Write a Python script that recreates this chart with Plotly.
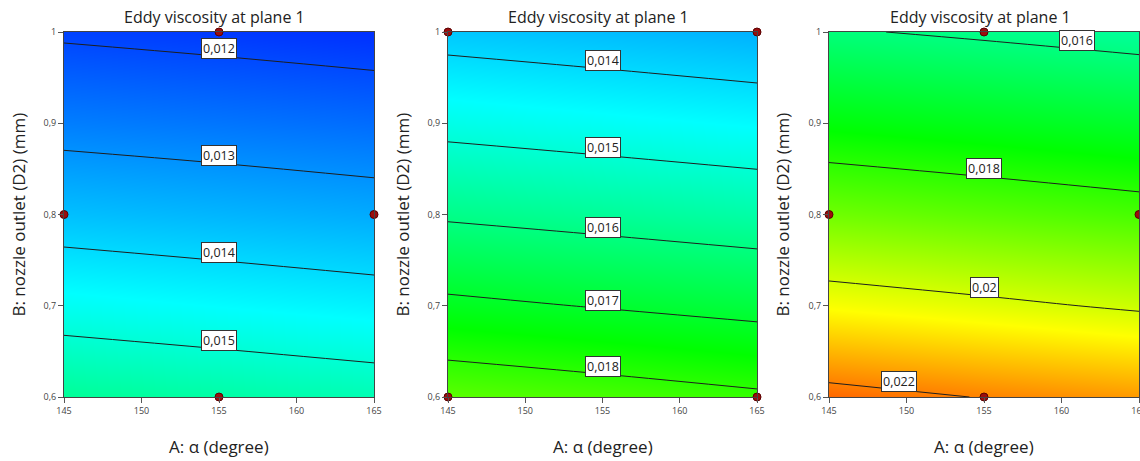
import numpy as np
import plotly.graph_objects as go

# Factor levels (grid on which the response was evaluated)
alpha = [145, 155, 165]            # A: alpha (degree)
d2 = [0.6, 0.7, 0.8, 0.9, 1.0]     # B: nozzle outlet D2 (mm)

# Eddy viscosity at plane 1; rows follow d2, columns follow alpha
nu_case1 = [
    [0.01573, 0.01557, 0.01540],
    [0.01465, 0.01449, 0.01433],
    [0.01364, 0.01350, 0.01335],
    [0.01273, 0.01261, 0.01248],
    [0.01190, 0.01178, 0.01165],
]
nu_case2 = [
    [0.01857, 0.01835, 0.01812],
    [0.01716, 0.01696, 0.01676],
    [0.01590, 0.01572, 0.01554],
    [0.01477, 0.01461, 0.01445],
    [0.01374, 0.01359, 0.01343],
]
nu_case3 = [
    [0.02229, 0.02197, 0.02170],
    [0.02044, 0.02017, 0.01989],
    [0.01882, 0.01858, 0.01834],
    [0.01738, 0.01718, 0.01697],
    [0.01607, 0.01588, 0.01568],
]

# Contour levels (start, end, step) for each panel
levels = [(0.012, 0.015, 0.001), (0.014, 0.018, 0.001), (0.016, 0.022, 0.002)]

# Where along alpha each contour label sits
label_alpha = [
    [155, 155, 155, 155],
    [155, 155, 155, 155, 155],
    [161, 155, 155, 149.5],
]

# Design points
pts1_a = [155, 145, 165, 155]
pts1_b = [1.0, 0.8, 0.8, 0.6]
pts2_a = [145, 165, 145, 165]
pts2_b = [1.0, 1.0, 0.6, 0.6]
pts3_a = [155, 145, 165, 155]
pts3_b = [1.0, 0.8, 0.8, 0.6]

x_ticks = [145, 150, 155, 160, 165]
y_ticks = [0.6, 0.7, 0.8, 0.9, 1.0]
y_ticktext = ["0,6", "0,7", "0,8", "0,9", "1"]

title_text = "Eddy viscosity at plane 1"
x_title = "A: α (degree)"
y_title = "B: nozzle outlet (D2) (mm)"

# Shared colour map: blue - cyan - green - yellow - red
color_vals = [0.0110, 0.0145, 0.0175, 0.0205, 0.0235]
color_list = ["rgb(0,0,255)", "rgb(0,255,255)", "rgb(0,255,0)",
              "rgb(255,255,0)", "rgb(255,0,0)"]
ZMIN, ZMAX = color_vals[0], color_vals[-1]
scale = [[(v - ZMIN) / (ZMAX - ZMIN), c] for v, c in zip(color_vals, color_list)]

W, H = 1140, 461
FONT = "Open Sans"
panels_px = [(64, 374), (448, 757), (829, 1139)]
top_px, bot_px = 32, 397
ytitle_px = [18, 402, 782]


def px_x(p):
    return p / W


def px_y(p):
    return 1 - p / H


def level_d2(z, a, level):
    """D2 value where the response equals `level` at a given alpha."""
    z = np.asarray(z)
    col = np.array([np.interp(a, alpha, row) for row in z])
    # response decreases with d2, so flip for interpolation
    return float(np.interp(level, col[::-1], np.array(d2)[::-1]))


fig = go.Figure()
data = [nu_case1, nu_case2, nu_case3]
pts = [(pts1_a, pts1_b), (pts2_a, pts2_b), (pts3_a, pts3_b)]
annotations = []

for i, z in enumerate(data):
    sfx = "" if i == 0 else str(i + 1)
    start, end, step = levels[i]
    fig.add_trace(go.Contour(
        x=alpha, y=d2, z=z,
        xaxis="x" + sfx, yaxis="y" + sfx,
        colorscale=scale, zmin=ZMIN, zmax=ZMAX, showscale=False,
        autocontour=False,
        contours=dict(start=start, end=end, size=step,
                      coloring="heatmap", showlines=True),
        line=dict(color="#1e1e1e", width=1),
        hoverinfo="skip",
    ))
    fig.add_trace(go.Scatter(
        x=pts[i][0], y=pts[i][1], mode="markers",
        xaxis="x" + sfx, yaxis="y" + sfx,
        marker=dict(color="#9b0d0d", size=8,
                    line=dict(color="#5a0000", width=1)),
        cliponaxis=False, showlegend=False, hoverinfo="skip",
    ))

    x0, x1 = panels_px[i]
    fig.update_layout(**{
        "xaxis" + sfx: dict(
            domain=[px_x(x0), px_x(x1)], range=[145, 165],
            anchor="y" + sfx, automargin=False, ticklabeloverflow="allow",
            tickvals=x_ticks, ticks="outside", ticklen=5,
            tickcolor="#555", showline=True, linecolor="#444",
            linewidth=1, mirror=True, showgrid=False, zeroline=False,
            tickfont=dict(family=FONT, size=9, color="#444"),
        ),
        "yaxis" + sfx: dict(
            domain=[px_y(bot_px), px_y(top_px)], range=[0.6, 1.0],
            anchor="x" + sfx, automargin=False, ticklabeloverflow="allow",
            tickvals=y_ticks, ticktext=y_ticktext, ticks="outside",
            ticklen=5, tickcolor="#555", showline=True, linecolor="#444",
            linewidth=1, mirror=True, showgrid=False, zeroline=False,
            tickfont=dict(family=FONT, size=9, color="#444"),
        ),
    })

    cx = px_x((x0 + x1) / 2)
    annotations.append(dict(
        text=title_text, xref="paper", yref="paper", x=cx, y=px_y(17),
        xanchor="center", yanchor="middle", xshift=-4, showarrow=False,
        font=dict(family=FONT, size=16, color="#222"),
    ))
    annotations.append(dict(
        text=x_title, xref="paper", yref="paper", x=cx, y=px_y(446),
        xanchor="center", yanchor="middle", showarrow=False,
        font=dict(family=FONT, size=17, color="#222"),
    ))
    annotations.append(dict(
        text=y_title, xref="paper", yref="paper", x=px_x(ytitle_px[i]),
        y=px_y((top_px + bot_px) / 2), xanchor="center", yanchor="middle",
        textangle=-90, showarrow=False,
        font=dict(family=FONT, size=17, color="#222"),
    ))

    lv = np.arange(start, end + step / 2, step)
    for level, a in zip(lv, label_alpha[i]):
        b = level_d2(z, a, level)
        annotations.append(dict(
            text=f"{level:.3f}".rstrip("0").replace(".", ","),
            xref="x" + sfx, yref="y" + sfx, x=a, y=b, yshift=8,
            xanchor="center", yanchor="middle",
            showarrow=False, bgcolor="white", bordercolor="#333",
            borderwidth=1, borderpad=1,
            font=dict(family=FONT, size=12.5, color="#222"),
        ))

fig.update_layout(
    width=W, height=H, margin=dict(l=0, r=0, t=0, b=0),
    paper_bgcolor="white", plot_bgcolor="white",
    showlegend=False, annotations=annotations,
)

fig.write_html("out.html")
